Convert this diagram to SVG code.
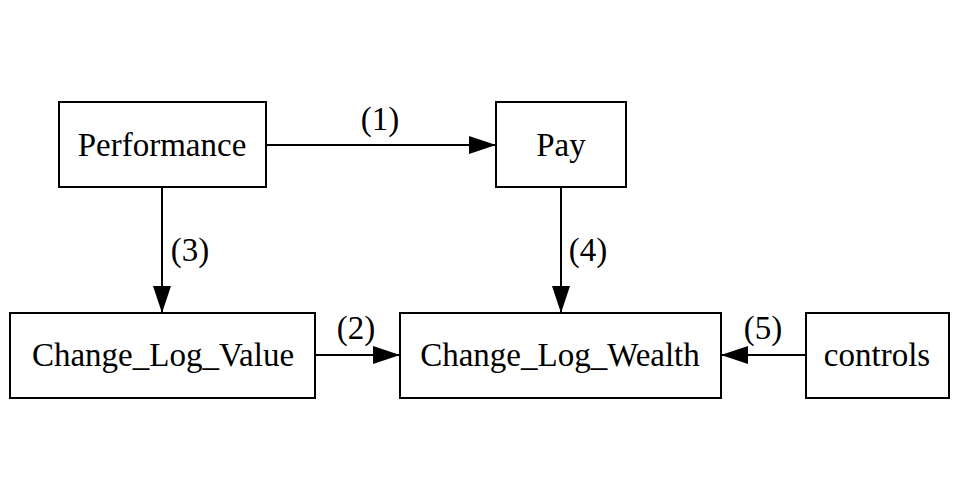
<svg xmlns="http://www.w3.org/2000/svg" width="960" height="504" viewBox="0 0 960 504">
<defs>
<style>
.n rect{fill:#fff;stroke:#000;stroke-width:2}
text{font-family:"Liberation Serif","Times New Roman",serif;font-size:33px;fill:#000;text-anchor:middle}
.e line{stroke:#000;stroke-width:2}
</style>
<marker id="a" viewBox="0 0 27 18" refX="27" refY="9" markerWidth="27" markerHeight="18" markerUnits="userSpaceOnUse" orient="auto">
<path d="M0,0L27,9L0,18Z" fill="#000"/>
</marker>
</defs>
<rect width="960" height="504" fill="#fff"/>
<g class="e" id="edges">
<line x1="266" y1="145" x2="496" y2="145" marker-end="url(#a)"/>
<text x="380" y="130">(1)</text>
<line x1="162" y1="187" x2="162" y2="313" marker-end="url(#a)"/>
<text x="190" y="261">(3)</text>
<line x1="561" y1="187" x2="561" y2="313" marker-end="url(#a)"/>
<text x="588" y="261">(4)</text>
<line x1="315" y1="355" x2="400" y2="355" marker-end="url(#a)"/>
<text x="356" y="339">(2)</text>
<line x1="806" y1="355" x2="721" y2="355" marker-end="url(#a)"/>
<text x="763" y="339">(5)</text>
</g>
<g class="n" id="performance"><rect x="59" y="102" width="207" height="85"/><text x="162" y="156">Performance</text></g>
<g class="n" id="pay"><rect x="496" y="102" width="130" height="85"/><text x="561" y="156">Pay</text></g>
<g class="n" id="clv"><rect x="10" y="313" width="305" height="85"/><text x="163" y="366">Change_Log_Value</text></g>
<g class="n" id="clw"><rect x="400" y="313" width="321" height="85"/><text x="560" y="366">Change_Log_Wealth</text></g>
<g class="n" id="controls"><rect x="806" y="313" width="143" height="85"/><text x="877" y="366">controls</text></g>
</svg>
